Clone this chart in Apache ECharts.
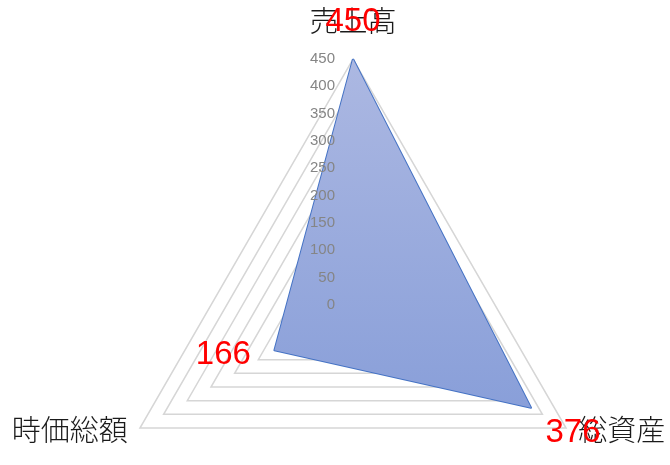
<!DOCTYPE html>
<html><head><meta charset="utf-8">
<script src="https://cdn.jsdelivr.net/npm/echarts@6/dist/echarts.min.js"></script>
<style>html,body{margin:0;padding:0;background:#fff}#c{width:670px;height:465px}</style>
</head><body><div id="c"></div>
<script>
// Indicators in ECharts order (counter-clockwise from top)
const indicatorNames = ['売上高', '時価総額', '総資産'];
const values = [450, 166, 376];
const axisMax = 450;
const tickStep = 50;

const chart = echarts.init(document.getElementById('c'), null, {renderer: 'canvas'});

const labelFont = {color: '#ff0000', fontSize: 33, fontFamily: 'Liberation Sans, Arial, sans-serif'};
const labelSetups = [
  {idx: 0, position: 'top', offset: [0, -15]},
  {idx: 1, position: 'left', offset: [-18, 5]},
  {idx: 2, position: 'bottom', offset: [42, 3]}
];

const labelSeries = labelSetups.map(s => ({
  type: 'radar',
  silent: true,
  symbol: 'circle',
  symbolSize: 1,
  itemStyle: {color: 'rgba(0,0,0,0)'},
  lineStyle: {opacity: 0},
  z: 5,
  data: [{value: values, label: {
    show: true, position: s.position, offset: s.offset, ...labelFont,
    formatter: p => (p.value === values[s.idx] ? String(p.value) : '')
  }}]
}));

const common = {
  center: [353, 305],
  radius: 246,
  shape: 'polygon',
  startAngle: 90,
  splitNumber: axisMax / tickStep
};

chart.setOption({
  animation: false,
  radar: [{
    ...common,
    indicator: indicatorNames.map(n => ({name: n, min: 0, max: axisMax})),
    axisName: {
      color: '#1a1a1a', fontSize: 29, fontFamily: 'Noto Sans CJK JP, sans-serif', fontWeight: 300,
      formatter: n => (n === indicatorNames[0] ? '{t|' + n + '}' : '{b|' + n + '}'),
      rich: {
        t: {fontSize: 29, fontFamily: 'Noto Sans CJK JP, sans-serif', color: '#1a1a1a', padding: [0, 0, 10, 0]},
        b: {fontSize: 29, fontFamily: 'Noto Sans CJK JP, sans-serif', color: '#1a1a1a', padding: [0, 0, 11, 0]}
      }
    },
    nameGap: 14,
    splitLine: {lineStyle: {color: '#d6d6d6', width: 1.5}},
    splitArea: {show: false},
    axisLine: {show: false},
    axisTick: {show: false},
    axisLabel: {show: false}
  }, {
    ...common,
    z: 10,
    indicator: indicatorNames.map((n, i) => ({
      name: '', min: 0, max: axisMax,
      axisLabel: {show: i === 0}
    })),
    axisName: {show: false},
    splitLine: {show: false},
    splitArea: {show: false},
    axisLine: {show: false},
    axisTick: {show: false},
    axisLabel: {show: true, color: '#858585', fontSize: 15, fontFamily: 'Liberation Sans, Arial, sans-serif', margin: 18}
  }],
  series: [{
    type: 'radar',
    radarIndex: 0,
    symbol: 'none',
    lineStyle: {color: '#4472c4', width: 2},
    areaStyle: {
      opacity: 1,
      color: new echarts.graphic.LinearGradient(0, 0, 0, 1, [
        {offset: 0, color: '#acb8e2'},
        {offset: 1, color: '#899fd9'}
      ])
    },
    data: [{value: values}]
  }, ...labelSeries]
});
</script></body></html>
